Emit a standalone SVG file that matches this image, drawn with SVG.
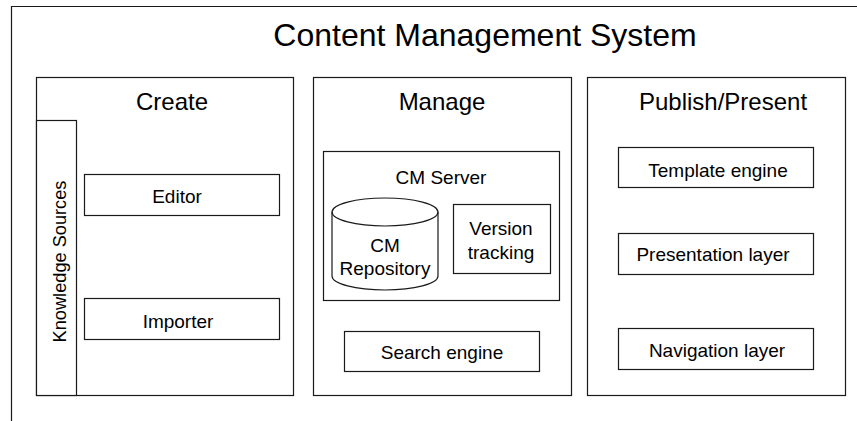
<svg xmlns="http://www.w3.org/2000/svg" width="857" height="421" viewBox="0 0 857 421">
<style>
.b{fill:#fff;stroke:#1a1a1a;stroke-width:1.2}
.t{font-family:"Liberation Sans",Arial,sans-serif;fill:#000;text-anchor:middle}
.s{font-size:19px}
.h{font-size:24px}
</style>
<rect width="857" height="421" fill="#fff"/>
<g id="frame">
<path d="M11.5,421 V6.5 H857" fill="none" stroke="#1a1a1a" stroke-width="1.2"/>
<text class="t" x="485" y="46" font-size="32">Content Management System</text>
</g>
<g id="create">
<rect class="b" x="36.5" y="77.5" width="257" height="318"/>
<text class="t h" x="172" y="110">Create</text>
</g>
<g id="knowledge-sources">
<rect class="b" x="36.5" y="120.5" width="40" height="275"/>
<text class="t" font-size="18.2" transform="translate(66,261.5) rotate(-90)">Knowledge Sources</text>
</g>
<g id="editor">
<rect class="b" x="84.5" y="174.5" width="195" height="41"/>
<text class="t s" x="177" y="203">Editor</text>
</g>
<g id="importer">
<rect class="b" x="84.5" y="298.5" width="195" height="41"/>
<text class="t s" x="178" y="328">Importer</text>
</g>
<g id="manage">
<rect class="b" x="313.5" y="77.5" width="258" height="318"/>
<text class="t h" x="442" y="110">Manage</text>
</g>
<g id="cm-server">
<rect class="b" x="323.5" y="151.5" width="236" height="149"/>
<text class="t s" x="441" y="184">CM Server</text>
</g>
<g id="cm-repository">
<path class="b" d="M332,212 A53,14 0 0 1 438,212 L438,276 A53,14 0 0 1 332,276 Z"/>
<path d="M332,212 A53,14 0 0 0 438,212" fill="none" stroke="#1a1a1a" stroke-width="1.2"/>
<text class="t s" x="385" y="252">CM</text>
<text class="t s" x="385" y="275">Repository</text>
</g>
<g id="version-tracking">
<rect class="b" x="453.5" y="204.5" width="97" height="69"/>
<text class="t s" x="501" y="235">Version</text>
<text class="t s" x="501" y="259">tracking</text>
</g>
<g id="search-engine">
<rect class="b" x="344.5" y="331.5" width="195" height="40"/>
<text class="t s" x="442" y="359">Search engine</text>
</g>
<g id="publish">
<rect class="b" x="587.5" y="77.5" width="258" height="318"/>
<text class="t h" x="723" y="110">Publish/Present</text>
</g>
<g id="template-engine">
<rect class="b" x="618.5" y="147.5" width="195" height="40"/>
<text class="t s" x="718" y="177">Template engine</text>
</g>
<g id="presentation-layer">
<rect class="b" x="618.5" y="233.5" width="195" height="41"/>
<text class="t s" x="713" y="261">Presentation layer</text>
</g>
<g id="navigation-layer">
<rect class="b" x="618.5" y="328.5" width="195" height="41"/>
<text class="t s" x="717" y="357">Navigation layer</text>
</g>
<g id="connectors"/>
</svg>
